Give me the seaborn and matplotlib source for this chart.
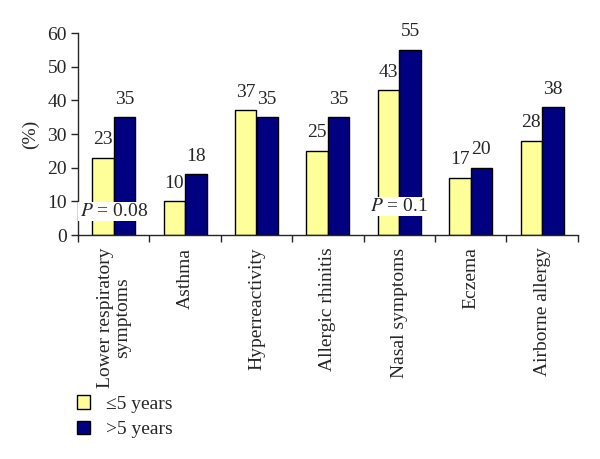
import pandas as pd
import matplotlib.pyplot as plt
import seaborn as sns
from matplotlib.patches import Patch

# data
categorias = ['Lower respiratory\nsymptoms', 'Asthma', 'Hyperreactivity', 'Allergic rhinitis',
              'Nasal symptoms', 'Eczema', 'Airborne allergy']
grupos = ['≤5 years', '>5 years']
menor_5 = [23, 10, 37, 25, 43, 17, 28]
mayor_5 = [35, 18, 35, 35, 55, 20, 38]
p_textos = ['0.08', '0.1']
p_categorias = [0, 4]
p_alturas = [7, 8.5]

colores = ['#FFFF99', '#000080']

df = pd.DataFrame({
    'categoria': categorias * 2,
    'grupo': [grupos[0]] * len(categorias) + [grupos[1]] * len(categorias),
    'valor': menor_5 + mayor_5,
})

sns.set_style('ticks')
plt.rcParams['font.family'] = ['Liberation Serif', 'DejaVu Serif']
plt.rcParams['mathtext.fontset'] = 'stix'
fs = 14

fig = plt.figure(figsize=(6, 4.59), dpi=100)
ax = fig.add_axes([0.13, 0.488, 0.833, 0.44])

sns.barplot(data=df, x='categoria', y='valor', hue='grupo', palette=colores,
            width=0.6, edgecolor='black', linewidth=1, saturation=1, ax=ax, legend=False)

# etiquetas de valores
for cont in ax.containers:
    for barra in cont:
        h = barra.get_height()
        ax.annotate(f'{h:.0f}', (barra.get_x() + barra.get_width() / 2, h),
                    xytext=(0, 13), textcoords='offset points',
                    ha='center', va='center', fontsize=fs)

# valores P
for txt, c, y in zip(p_textos, p_categorias, p_alturas):
    ax.text(c, y, f'$P$ = {txt}', ha='center', va='center', fontsize=fs,
            bbox=dict(facecolor='white', edgecolor='none', pad=1))

ax.set_ylim(0, 60)
ax.set_yticks(range(0, 61, 10))
ax.set_xlim(-0.5, len(categorias) - 0.5)
ax.set_ylabel('(%)', fontsize=fs, labelpad=6)
ax.set_xlabel('')
ax.set_xticks(range(len(categorias)))
ax.set_xticklabels(categorias, rotation=90, ha='center', va='top', fontsize=fs,
                   multialignment='center', linespacing=1.0)
ax.set_xticks([i - 0.5 for i in range(len(categorias) + 1)], minor=True)
ax.tick_params(axis='x', which='major', length=0, pad=9)
ax.tick_params(axis='x', which='minor', length=5, direction='out', width=1)
ax.tick_params(axis='y', labelsize=fs, length=5, width=1, direction='out', pad=3)
sns.despine(ax=ax)
ax.spines['left'].set_linewidth(1)
ax.spines['bottom'].set_linewidth(1)
ax.grid(False)

handles = [Patch(facecolor=colores[0], edgecolor='black', label=grupos[0]),
           Patch(facecolor=colores[1], edgecolor='black', label=grupos[1])]
fig.legend(handles=handles, loc='upper left', bbox_to_anchor=(0.128, 0.139),
           frameon=False, fontsize=fs, handlelength=0.7, handleheight=0.7,
           handletextpad=0.8, labelspacing=0.4, borderaxespad=0, borderpad=0)

fig.savefig('out.png', dpi=100)
